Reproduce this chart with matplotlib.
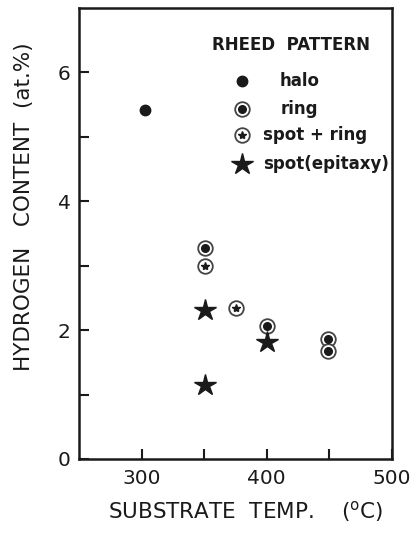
import numpy as np
import matplotlib
matplotlib.use('Agg')
import matplotlib.pyplot as plt

plt.rcParams['font.family'] = ['DejaVu Sans']
plt.rcParams['mathtext.fontset'] = 'dejavusans'

# data
halo_t = [303]
halo_h = [5.41]
ring_t = [351, 400, 449, 449]
ring_h = [3.27, 2.06, 1.86, 1.68]
spotring_t = [351, 375]
spotring_h = [3.00, 2.35]
spot_t = [351, 351, 400]
spot_h = [2.32, 1.15, 1.81]

x_ticks = [300, 400, 500]
y_ticks = [0, 2, 4, 6]

legend_labels = ['halo', 'ring', 'spot + ring', 'spot(epitaxy)']

ink = '#1a1a1a'
ring_edge = '#444444'

W, H = 412, 540
L, R, T, B = 79, 392, 8, 459
fig = plt.figure(figsize=(W / 100, H / 100), dpi=100)
ax = fig.add_axes([L / W, 1 - B / H, (R - L) / W, (B - T) / H])


def axfrac(px, py):
    # pixel position in the picture -> axes fraction
    return (px - L) / (R - L), (B - py) / (B - T)


def draw_halo(x, y, **kw):
    ax.plot(x, y, 'o', ms=7.5, color=ink, ls='none', **kw)


def draw_ring(x, y, **kw):
    ax.plot(x, y, 'o', ms=10.5, mfc='white', mec=ring_edge, mew=1.3, ls='none', **kw)
    ax.plot(x, y, 'o', ms=5.5, color=ink, ls='none', **kw)


def draw_spotring(x, y, **kw):
    ax.plot(x, y, 'o', ms=10.5, mfc='white', mec=ring_edge, mew=1.3, ls='none', **kw)
    ax.plot(x, y, '*', ms=6, color=ink, ls='none', **kw)


def draw_spot(x, y, **kw):
    ax.plot(x, y, '*', ms=16, color=ink, ls='none', **kw)


draw_halo(halo_t, halo_h)
draw_ring(ring_t, ring_h)
draw_spotring(spotring_t, spotring_h)
draw_spot(spot_t, spot_h)

ax.set_xlim(250, 500)
ax.set_ylim(0, 7)
ax.set_xticks(x_ticks)
ax.set_xticks([350, 450], minor=True)
ax.set_yticks(y_ticks)
ax.set_yticks([1, 3, 5], minor=True)
ax.tick_params(which='both', direction='in', length=7, width=1.5, color=ink,
               labelsize=14.5, labelcolor=ink)
ax.tick_params(axis='x', which='major', pad=7)
ax.tick_params(axis='y', which='major', pad=6)
for s in ax.spines.values():
    s.set_linewidth(1.8)
    s.set_color(ink)

# axis titles placed where they sit in the original
fig.text(246 / W, 1 - 511 / H, 'SUBSTRATE  TEMP.    (' + r'$^{\mathregular{o}}$' + 'C)',
         ha='center', va='center', fontsize=15.5, color=ink)
fig.text(24 / W, 1 - 207 / H, 'HYDROGEN   CONTENT  (at.%)', rotation=90,
         ha='center', va='center', fontsize=15.5, color=ink)

# legend drawn by hand, as in the original figure
ax.text(*axfrac(291, 45), 'RHEED  PATTERN', transform=ax.transAxes,
        ha='center', va='center', fontsize=12, fontweight='bold', color=ink)
rows_y = [81, 109, 135, 164]
text_x = [280, 281, 263, 263]
drawers = [draw_halo, draw_ring, draw_spotring, draw_spot]
for draw, label, py, tx in zip(drawers, legend_labels, rows_y, text_x):
    mx, my = axfrac(242, py)
    draw([mx], [my], transform=ax.transAxes, clip_on=False)
    ax.text(*axfrac(tx, py), label, transform=ax.transAxes,
            ha='left', va='center', fontsize=12, fontweight='bold', color=ink)

fig.savefig('out.png', dpi=100)
